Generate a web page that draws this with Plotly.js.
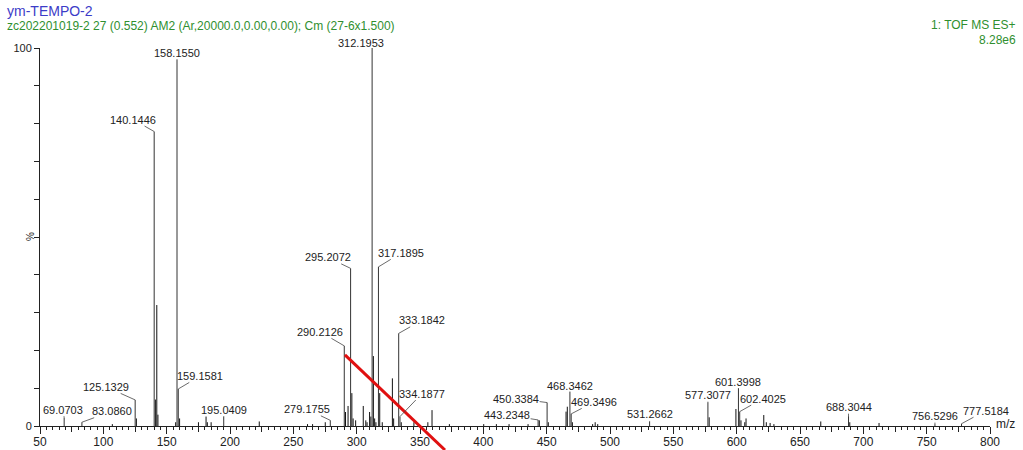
<!DOCTYPE html>
<html>
<head>
<meta charset="utf-8">
<script src="https://cdn.plot.ly/plotly-3.0.1.min.js"></script>
<style>html,body{margin:0;padding:0;background:#fff;}#chart{width:1023px;height:450px;}</style>
</head>
<body>
<div id="chart"></div>
<script>
// Labelled peaks (m/z, relative intensity %)
const labelMz = [69.0703, 83.0860, 125.1329, 140.1446, 158.1550, 159.1581, 195.0409, 279.1755,
  290.2126, 295.2072, 312.1953, 317.1895, 333.1842, 334.1877, 443.2348, 450.3384, 468.3462,
  469.3496, 531.2662, 577.3077, 601.3998, 602.4025, 688.3044, 756.5296, 777.5184];
const labelInt = [2.2, 1.0, 6.9, 77.9, 97.0, 9.8, 2.5, 1.5,
  21.2, 41.7, 100, 42.1, 24.5, 2.5, 1.6, 6.2, 9.1,
  3.2, 1.2, 6.3, 10.0, 3.8, 2.6, 0.5, 0.6];
// label text offsets (pixels) relative to peak top
const labelDx = [-1, 30, -29, -21, 0, 22, 0, -23, -24, -23, -11, 23, 23, 22, -31, -31, 0, 23, 0, 0, 0, 23, 0, 0, 24];
const labelDy = [-8, -11, -13, -12, -6, -13, -7, -11, -14, -11, -5, -14, -13, -23, -5, -4, -6, -12, -7, -7, -6, -13, -9, -8, -13];

// Unlabelled peaks
const otherMz = [107.1, 126.1, 141.1, 142.2, 143.1, 157.1, 160.2, 175.1, 181.1, 182.1, 185.1, 223.1, 261.2, 265.2, 275.2,
  291.2, 293.2, 296.2, 297.2, 299.2, 305.2, 307.2, 308.2, 310.2, 311.2, 313.2, 314.2, 315.2, 318.2, 320.2, 328.2, 329.2,
  335.2, 345.2, 356.2, 359.5, 373.2, 400.3, 410.3, 420.3, 435.3, 444.2, 451.3, 465.3, 466.3, 470.3, 486.3, 488.3, 490.3,
  578.3, 599.4, 603.4, 606.4, 607.4, 621.4, 623.4, 626.4, 629.4, 666.4, 689.3, 712.4];
const otherInt = [0.5, 2.0, 7.0, 32.0, 3.0, 1.0, 2.0, 1.0, 2.5, 1.0, 1.0, 1.2, 0.5, 0.5, 1.0,
  3.7, 5.3, 8.7, 2.0, 1.5, 5.3, 1.5, 1.0, 3.7, 2.5, 18.5, 2.0, 1.0, 8.7, 1.0, 12.6, 2.0,
  1.0, 1.0, 1.0, 4.2, 0.5, 0.5, 0.5, 0.5, 0.5, 1.5, 1.0, 3.8, 5.1, 1.0, 0.5, 1.0, 0.5,
  2.3, 4.5, 1.5, 1.0, 2.0, 2.9, 1.0, 0.8, 0.5, 1.2, 1.0, 0.8];

const titleText = "ym-TEMPO-2";
const subText = "zc202201019-2 27 (0.552) AM2 (Ar,20000.0,0.00,0.00); Cm (27-6x1.500)";
const modeText = "1: TOF MS ES+";
const scaleText = "8.28e6";

function sticks(mz, inten) {
  const xs = [], ys = [];
  for (let i = 0; i < mz.length; i++) { xs.push(mz[i], mz[i], null); ys.push(0, inten[i], null); }
  return {xs, ys};
}
const a = sticks(otherMz, otherInt);
const b = sticks(labelMz, labelInt);
const FONT = "Liberation Sans, Arial, sans-serif";

const traces = [
  {x: a.xs, y: a.ys, type: 'scatter', mode: 'lines', line: {color: '#111', width: 1}, hoverinfo: 'skip', showlegend: false},
  {x: b.xs, y: b.ys, type: 'scatter', mode: 'lines', line: {color: '#333', width: 1}, hoverinfo: 'skip', showlegend: false},
  {x: [50, 800], y: [0, 0], xaxis: 'x2', type: 'scatter', mode: 'lines', line: {width: 0}, hoverinfo: 'skip', showlegend: false}
];

const annotations = labelMz.map((m, i) => ({
  x: m, y: labelInt[i], xref: 'x', yref: 'y', text: m.toFixed(4),
  showarrow: true, arrowhead: 0, arrowwidth: 0.8, arrowcolor: '#444', standoff: 0,
  ax: labelDx[i], ay: labelDy[i], borderpad: 0,
  font: {family: FONT, size: 11, color: '#222'}
}));
annotations.push(
  {xref: 'paper', yref: 'paper', x: -0.0368, y: 1.098, xanchor: 'left', yanchor: 'middle', showarrow: false,
   text: titleText, font: {family: FONT, size: 14, color: '#3c3cc8'}},
  {xref: 'paper', yref: 'paper', x: -0.0368, y: 1.058, xanchor: 'left', yanchor: 'middle', showarrow: false,
   text: subText, font: {family: FONT, size: 12, color: '#2f8f2f'}},
  {xref: 'paper', yref: 'paper', x: 1.0295, y: 1.0608, xanchor: 'right', yanchor: 'middle', showarrow: false,
   text: modeText, font: {family: FONT, size: 12, color: '#2f8f2f'}},
  {xref: 'paper', yref: 'paper', x: 1.0295, y: 1.021, xanchor: 'right', yanchor: 'middle', showarrow: false,
   text: scaleText, font: {family: FONT, size: 12, color: '#2f8f2f'}},
  {xref: 'paper', yref: 'paper', x: -0.0105, y: 0.5, xanchor: 'center', yanchor: 'middle', showarrow: false,
   text: '%', textangle: -90, font: {family: FONT, size: 10, color: '#222'}},
  {xref: 'paper', yref: 'paper', x: 1.004, y: 0.004, xanchor: 'left', yanchor: 'middle', showarrow: false,
   text: 'm/z', font: {family: FONT, size: 12, color: '#222'}}
);

const layout = {
  width: 1023, height: 450,
  margin: {l: 40, r: 33, t: 48, b: 24, pad: 0},
  paper_bgcolor: '#fff', plot_bgcolor: '#fff',
  font: {family: FONT, size: 12, color: '#222'},
  xaxis: {range: [50, 800], tick0: 50, dtick: 50, showgrid: false, zeroline: false,
    showline: true, linecolor: '#222', linewidth: 1, ticks: 'outside', ticklen: 7, tickcolor: '#222',
    tickfont: {family: FONT, size: 12, color: '#222'}, ticklabelstandoff: -2,
    minor: {tickmode: 'linear', tick0: 50, dtick: 5, ticks: 'outside', ticklen: 3, tickcolor: '#222', showgrid: false}},
  xaxis2: {range: [50, 800], overlaying: 'x', side: 'bottom', tick0: 50, dtick: 25, showgrid: false, zeroline: false,
    showline: false, ticks: 'outside', ticklen: 5, tickcolor: '#222', showticklabels: false},
  yaxis: {range: [0, 100], tickmode: 'array', tickvals: [0, 100], ticktext: ['0', '100'], showgrid: false, zeroline: false,
    showline: true, linecolor: '#222', linewidth: 1, ticks: 'outside', ticklen: 5, tickcolor: '#222',
    tickfont: {family: FONT, size: 11, color: '#222'},
    minor: {tickmode: 'linear', tick0: 0, dtick: 10, ticks: 'outside', ticklen: 5, tickcolor: '#222', showgrid: false}},
  annotations: annotations,
  shapes: [{type: 'line', xref: 'paper', yref: 'paper', x0: 0.321, y0: 0.188, x1: 0.4263, y1: -0.0635,
    line: {color: '#e01010', width: 3}, layer: 'above'}]
};

Plotly.newPlot('chart', traces, layout, {staticPlot: true, displayModeBar: false});
</script>
</body>
</html>
